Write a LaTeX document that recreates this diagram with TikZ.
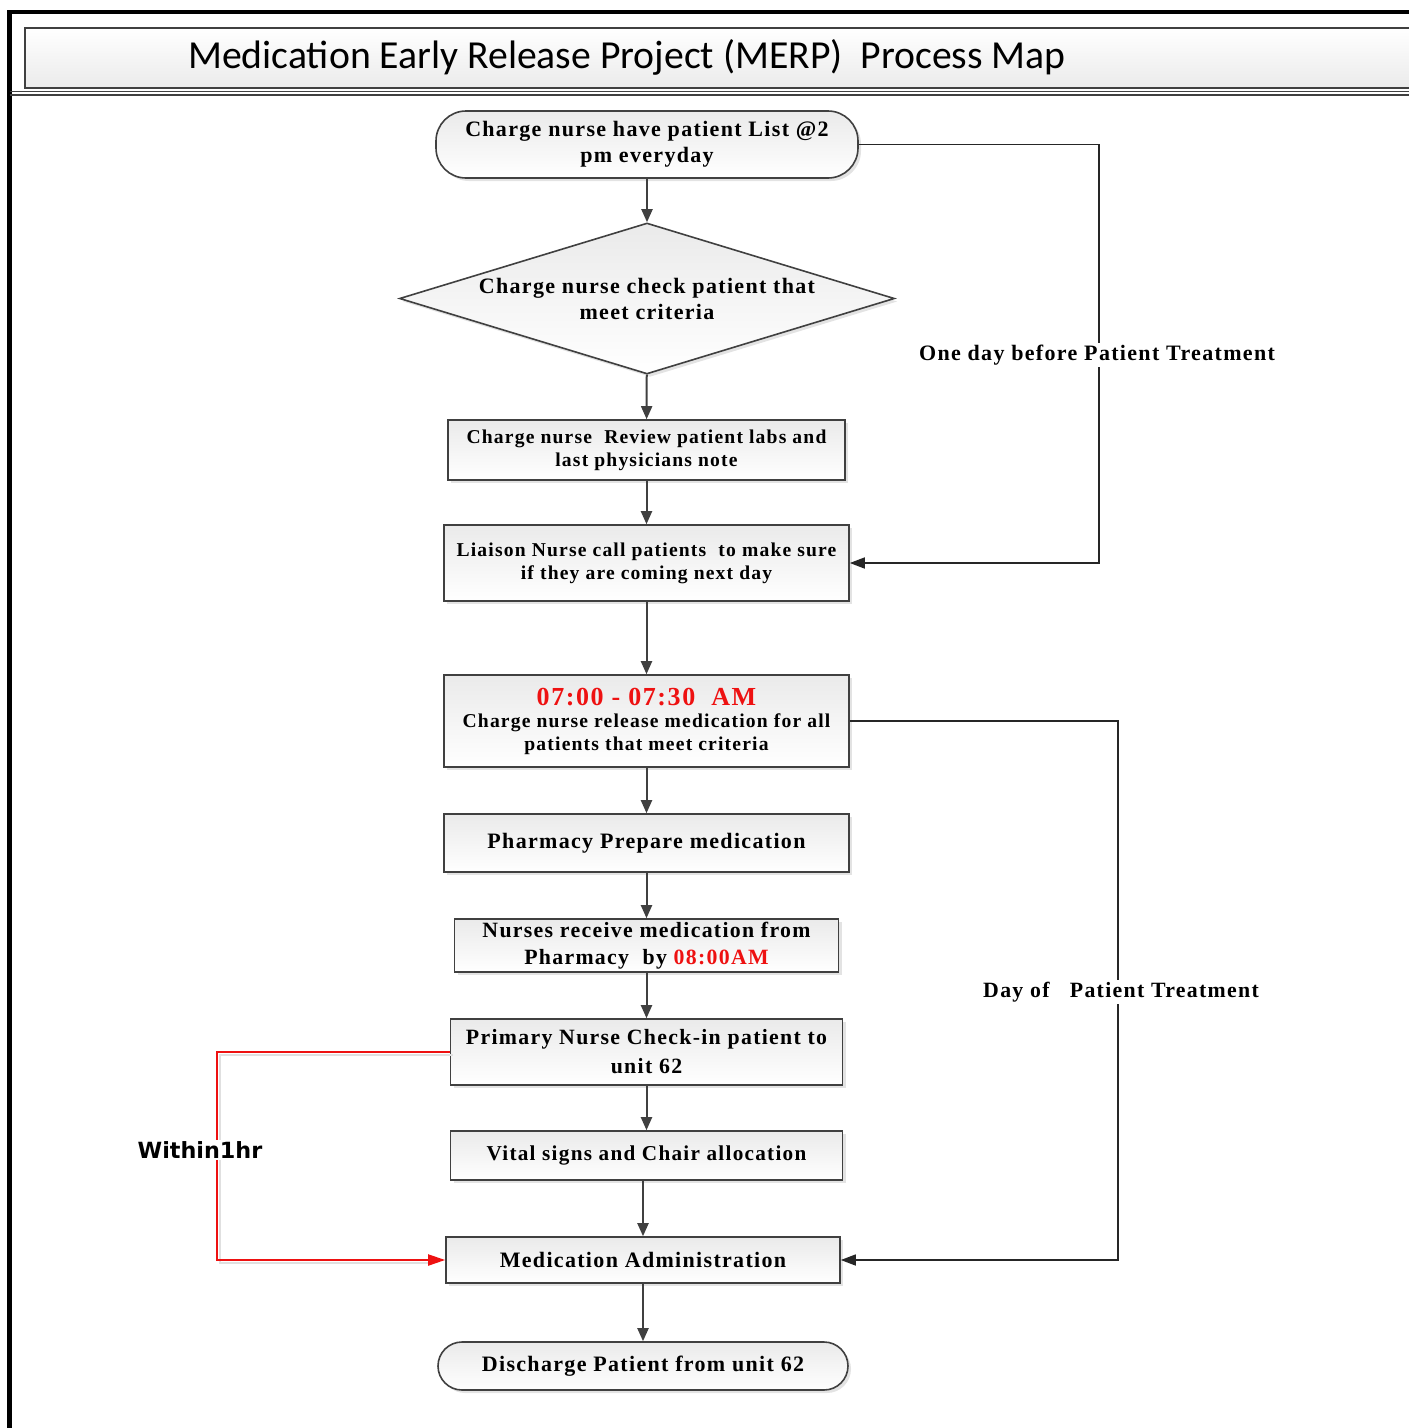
\documentclass[tikz,border=0pt]{standalone}
\usepackage{fontspec}
\setmainfont{Liberation Serif}[LetterSpace=6]
\newfontfamily\titlefont{Carlito}
\newfontfamily\labelsans{DejaVu Sans}
\usetikzlibrary{shapes.geometric,arrows.meta,shadows}
\definecolor{ln}{HTML}{404040}
\definecolor{mred}{HTML}{EE1111}
\definecolor{boxtop}{HTML}{EAEAEA}
\begin{document}
\begin{tikzpicture}[x=1pt,y=-1pt,
  box/.style={draw=ln, line width=1.6pt, top color=boxtop, bottom color=white,
    align=center, inner sep=0pt,
    drop shadow={opacity=0.22,shadow xshift=3pt,shadow yshift=-3pt}},
  proc/.style={box, rectangle},
  term/.style={box, rectangle, rounded corners=30pt},
  dec/.style={box, diamond},
  arr/.style={draw=ln, line width=2pt, -{Triangle[length=13pt,width=11pt]}},
  link/.style={draw=black!85, line width=1.6pt, -{Triangle[length=15pt,width=11pt]}},
  redarr/.style={draw=mred, line width=2pt, -{Triangle[length=17pt,width=11pt]}},
  redshadow/.style={draw=black!12, line width=1.6pt},
  lbl/.style={fill=white, inner sep=2pt},
  fa/.style={font=\fontsize{22}{26}\selectfont\bfseries},
  fb/.style={font=\fontsize{19.6}{23}\selectfont\bfseries},
  fc/.style={font=\fontsize{21.8}{27}\selectfont\bfseries},
  fd/.style={font=\fontsize{21.8}{29}\selectfont\bfseries},
]
\useasboundingbox (0,0) rectangle (1409,1428);
\clip (0,0) rectangle (1409,1428);

% frame
\draw[line width=4.5pt, black] (9.5,1440) -- (9.5,12) -- (1430,12);
\shade[top color=white, bottom color=black!8] (25,28) rectangle (1430,88);
\draw[draw=ln, line width=1.6pt] (1430,28) -- (25,28) -- (25,88) -- (1430,88);
\draw[draw=ln, line width=1.2pt] (9.5,91.5) -- (1430,91.5);
\draw[draw=ln, line width=1.2pt] (9.5,95) -- (1430,95);
\node[anchor=base west, inner sep=0pt, font=\titlefont\fontsize{39.7}{44}\selectfont] (title) at (188,68)
  {Medication Early Release Project (MERP)\ \ Process Map};

% nodes
\node[term, fa, minimum width=422pt, minimum height=67pt] (n1) at (647,144.5)
  {Charge nurse have patient List @2\\pm everyday};
\node[dec, fa, minimum width=495pt, minimum height=151pt, aspect=3.28] (n2) at (647,298.5)
  {Charge nurse check patient that\\meet criteria};
\node[proc, fb, minimum width=397pt, minimum height=60pt] (n3) at (646.5,450)
  {Charge nurse\ \ Review patient labs and\\last physicians note};
\node[proc, fb, minimum width=405pt, minimum height=76pt] (n4) at (646.5,563)
  {Liaison Nurse call patients\ \ to make sure\\if they are coming next day};
\node[proc, fb, minimum width=405pt, minimum height=92pt] (n5) at (646.5,721)
  {{\fontsize{26}{30}\selectfont\color{mred}07:00 - 07:30\ \ AM}\\[-1pt]
   Charge nurse release medication for all\\patients that meet criteria};
\node[proc, fa, minimum width=405pt, minimum height=58pt] (n6) at (646.5,843)
  {Pharmacy Prepare medication};
\node[proc, fc, minimum width=384pt, minimum height=53pt] (n7) at (646.5,945.5)
  {Nurses receive medication from\\Pharmacy\ \ by \textcolor{mred}{08:00AM}};
\node[proc, fd, minimum width=392pt, minimum height=66pt] (n8) at (646.5,1052)
  {Primary Nurse Check-in patient to\\unit 62};
\node[proc, font=\fontsize{21.2}{26}\selectfont\bfseries, minimum width=392pt, minimum height=49pt] (n9) at (646.5,1155.5)
  {Vital signs and Chair allocation};
\node[proc, fa, minimum width=394pt, minimum height=46pt] (n10) at (643,1260)
  {Medication Administration};
\node[term, fa, minimum width=410pt, minimum height=48pt, rounded corners=24pt] (n11) at (643,1366)
  {Discharge Patient from unit 62};

% main flow
\draw[arr] (n1) -- (n2);
\draw[arr] (n2) -- (n3);
\draw[arr] (n3) -- (n4);
\draw[arr] (n4) -- (n5);
\draw[arr] (n5) -- (n6);
\draw[arr] (n6) -- (n7);
\draw[arr] (n7) -- (n8);
\draw[arr] (n8) -- (n9);
\draw[arr] (n9.south -| n10.north) -- (n10.north);
\draw[arr] (n10) -- (n11);

% side connectors
\coordinate (rA) at (1099,0);
\coordinate (rB) at (1118,0);
\coordinate (rC) at (217,0);
\draw[link] (n1.east) -- (n1.east -| rA) |- (n4.east);
\draw[link] (n5.east) -- (n5.east -| rB) |- (n10.east);
\draw[redshadow, transform canvas={xshift=3pt,yshift=-3pt}] (n8.west) -- (n8.west -| rC) |- ([xshift=-17pt]n10.west);
\draw[redarr] (n8.west) -- (n8.west -| rC) |- (n10.west);

% labels
\node[lbl, font=\fontsize{22}{26}\selectfont\bfseries] (l1) at (1097,355) {One day before Patient Treatment};
\node[lbl, font=\fontsize{21.8}{26}\selectfont\bfseries] (l2) at (1121,992) {Day of\ \ \ Patient Treatment};
\node[lbl, font=\labelsans\fontsize{22.3}{26}\selectfont\bfseries] (l3) at (200,1150) {Within1hr};
\end{tikzpicture}
\end{document}
